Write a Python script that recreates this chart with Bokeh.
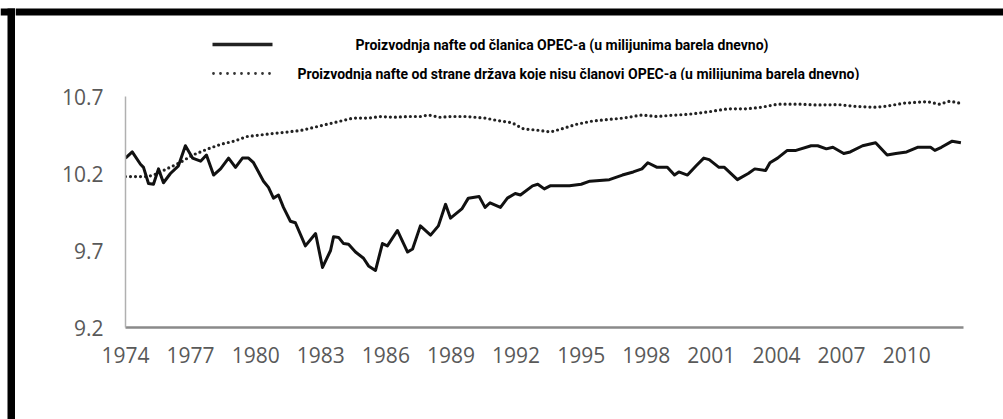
from bokeh.plotting import figure
from bokeh.layouts import row, column
from bokeh.models import Range1d, FixedTicker
from bokeh.core.properties import value
from bokeh.embed import file_html
from bokeh.resources import INLINE

# ---- data ----
opec_years = [1974.0, 1974.31, 1974.69, 1974.83, 1975.06, 1975.29, 1975.52, 1975.75, 1976.07, 1976.44,
              1976.76, 1977.09, 1977.46, 1977.73, 1978.06, 1978.38, 1978.75, 1979.07, 1979.39, 1979.67,
              1979.9, 1980.36, 1980.59, 1980.82, 1981.05, 1981.28, 1981.6, 1981.83, 1982.29, 1982.76,
              1983.08, 1983.45, 1983.59, 1983.82, 1984.05, 1984.28, 1984.6, 1984.97, 1985.2, 1985.52,
              1985.84, 1986.07, 1986.53, 1987.0, 1987.23, 1987.59, 1988.06, 1988.42, 1988.75, 1988.98,
              1989.5, 1989.8, 1990.3, 1990.57, 1990.8, 1991.28, 1991.6, 1991.96, 1992.2, 1992.76,
              1993.0, 1993.3, 1993.57, 1994.46, 1995.0, 1995.4, 1996.3, 1996.9, 1997.4, 1997.8,
              1998.07, 1998.5, 1998.97, 1999.3, 1999.5, 1999.9, 2000.3, 2000.65, 2000.9, 2001.35,
              2001.6, 2002.2, 2002.7, 2003.0, 2003.5, 2003.7, 2004.05, 2004.5, 2004.9, 2005.6,
              2005.9, 2006.3, 2006.6, 2007.1, 2007.4, 2007.97, 2008.57, 2009.1, 2009.5, 2010.0,
              2010.5, 2011.1, 2011.3, 2011.6, 2012.1, 2012.5]
opec_values = [10.30, 10.34, 10.26, 10.24, 10.135, 10.13, 10.23, 10.14, 10.20, 10.25,
               10.38, 10.30, 10.28, 10.32, 10.19, 10.23, 10.30, 10.24, 10.30, 10.30,
               10.27, 10.15, 10.11, 10.04, 10.06, 9.98, 9.89, 9.88, 9.73, 9.81,
               9.59, 9.70, 9.79, 9.785, 9.745, 9.74, 9.69, 9.65, 9.60, 9.57,
               9.745, 9.73, 9.83, 9.69, 9.71, 9.86, 9.80, 9.86, 10.00, 9.91,
               9.97, 10.04, 10.05, 9.98, 10.01, 9.98, 10.04, 10.07, 10.06, 10.12,
               10.13, 10.10, 10.12, 10.12, 10.13, 10.15, 10.16, 10.19, 10.21, 10.23,
               10.27, 10.24, 10.24, 10.19, 10.21, 10.19, 10.25, 10.30, 10.29, 10.24,
               10.24, 10.16, 10.20, 10.23, 10.22, 10.27, 10.30, 10.35, 10.35, 10.38,
               10.38, 10.36, 10.37, 10.33, 10.34, 10.38, 10.40, 10.32, 10.33, 10.34,
               10.37, 10.37, 10.35, 10.37, 10.41, 10.40]

non_opec_years = [1974.0, 1975.0, 1975.3, 1975.9, 1976.5, 1977.1, 1977.8, 1978.4, 1979.0, 1979.6,
                  1980.2, 1980.8, 1981.5, 1982.1, 1982.7, 1983.3, 1983.9, 1984.5, 1985.2, 1985.75,
                  1986.35, 1987.0, 1987.6, 1987.96, 1988.5, 1989.0, 1989.7, 1990.57, 1991.1, 1991.8,
                  1992.34, 1993.06, 1993.6, 1994.1, 1994.8, 1995.5, 1996.2, 1996.95, 1997.8, 1998.5,
                  1999.07, 1999.97, 2000.85, 2001.74, 2002.6, 2003.3, 2004.05, 2005.1, 2005.8, 2006.9,
                  2007.6, 2008.5, 2009.0, 2009.9, 2010.96, 2011.5, 2012.0, 2012.5]
non_opec_values = [10.18, 10.18, 10.19, 10.23, 10.27, 10.32, 10.36, 10.39, 10.41, 10.44,
                   10.45, 10.46, 10.47, 10.48, 10.50, 10.52, 10.54, 10.56, 10.56, 10.57,
                   10.565, 10.57, 10.57, 10.58, 10.565, 10.57, 10.57, 10.56, 10.545, 10.53,
                   10.49, 10.48, 10.47, 10.49, 10.52, 10.54, 10.55, 10.56, 10.58, 10.57,
                   10.577, 10.585, 10.60, 10.62, 10.62, 10.63, 10.65, 10.65, 10.645, 10.647,
                   10.636, 10.63, 10.636, 10.657, 10.667, 10.65, 10.67, 10.655]

x_ticks = [1974, 1977, 1980, 1983, 1986, 1989, 1992, 1995, 1998, 2001, 2004, 2007, 2010]
y_ticks = [9.2, 9.7, 10.2, 10.7]
legend_opec = "Proizvodnja nafte od članica OPEC-a (u milijunima barela dnevno)"
legend_non_opec = "Proizvodnja nafte od strane država koje nisu članovi OPEC-a (u milijunima barela dnevno)"

# ---- page geometry (pixels of the 1003 x 419 picture) ----
W, H = 1003, 419
LEFT_W = 15          # strip holding the black left edge
TOP_H = 80           # strip holding the legend and the black top edge
BOT_H = 8            # strip holding the black bottom edge
FL, FR, FT, FB = 125, 963, 96, 327   # plot-frame edges on the page


def no_frame_align(f):
    try:
        f.frame_align = False
    except Exception:
        pass


def plain_fig(width, height, x0, x1, y0, y1, bg="white"):
    f = figure(width=width, height=height, output_backend="svg", toolbar_location=None,
               x_axis_location=None, y_axis_location=None, min_border=0,
               x_range=Range1d(x0, x1), y_range=Range1d(y1, y0))  # y grows downward
    f.outline_line_color = None
    f.grid.visible = False
    f.background_fill_color = bg
    f.border_fill_color = bg
    no_frame_align(f)
    return f


# left strip (page x 0..15, y 0..419)
left = plain_fig(LEFT_W, H, 0, LEFT_W, 0, H)
left.quad(left=[0], right=[LEFT_W], top=[8], bottom=[15], fill_color="black", line_color=None)
left.quad(left=[7], right=[LEFT_W], top=[8], bottom=[H], fill_color="black", line_color=None)

# top strip with legend (page x 15..1003, y 0..80)
top = plain_fig(W - LEFT_W, TOP_H, LEFT_W, W, 0, TOP_H)
top.quad(left=[LEFT_W], right=[W], top=[8], bottom=[15], fill_color="black", line_color=None)
top.line([212, 272], [44, 44], line_color="#222222", line_width=3.5)
top.line([213, 272], [73, 73], line_color="#333333", line_width=2.8, line_dash="0 7", line_cap="round")
legend_font = value("Roboto")
top.text(x=[355], y=[44], text=[legend_opec], text_font=legend_font, text_font_style="bold",
         text_font_size="14px", text_baseline="middle", text_align="left", text_color="black")
top.text(x=[297], y=[73], text=[legend_non_opec], text_font=legend_font, text_font_style="bold",
         text_font_size="14px", text_baseline="middle", text_align="left", text_color="black")

# main chart (page x 15..1003, y 80..411)
PH = H - TOP_H - BOT_H
p = figure(width=W - LEFT_W, height=PH, output_backend="svg", toolbar_location=None,
           x_range=Range1d(1974, 2012.62), y_range=Range1d(9.2, 10.7),
           min_border_left=FL - LEFT_W, min_border_right=W - FR,
           min_border_top=FT - TOP_H, min_border_bottom=(H - BOT_H) - FB)
no_frame_align(p)
p.outline_line_color = None
p.xgrid.visible = False
p.ygrid.visible = False
p.background_fill_color = "white"
p.border_fill_color = "white"

p.xaxis.ticker = FixedTicker(ticks=x_ticks)
p.yaxis.ticker = FixedTicker(ticks=y_ticks)
p.yaxis.formatter.use_scientific = False
for ax in (p.xaxis[0], p.yaxis[0]):
    ax.major_tick_line_color = None
    ax.minor_tick_line_color = None
    ax.major_tick_out = 0
    ax.major_tick_in = 0
    ax.minor_tick_out = 0
    ax.major_label_text_font = "Open Sans"
    ax.major_label_text_font_size = "21px"
    ax.major_label_text_color = "#595959"
p.xaxis.major_label_standoff = 19
p.yaxis.major_label_standoff = 22
p.xaxis.axis_line_color = "#8a8a8a"
p.xaxis.axis_line_width = 2.5
p.yaxis.axis_line_color = "#b0b0b0"
p.yaxis.axis_line_width = 1.5

p.line(non_opec_years, non_opec_values, line_color="#222222", line_width=3.2,
       line_dash="0 5", line_cap="round")
p.line(opec_years, opec_values, line_color="#111111", line_width=3, line_join="round")

# bottom strip (page y 411..419) with the black bottom edge in its lower half
bottom = plain_fig(W - LEFT_W, BOT_H, LEFT_W, W, H - BOT_H, H)
bottom.quad(left=[LEFT_W], right=[W], top=[415], bottom=[H], fill_color="black", line_color=None)

layout = row(left, column(top, p, bottom, spacing=0), spacing=0)
open("out.html", "w").write(file_html(layout, INLINE))
